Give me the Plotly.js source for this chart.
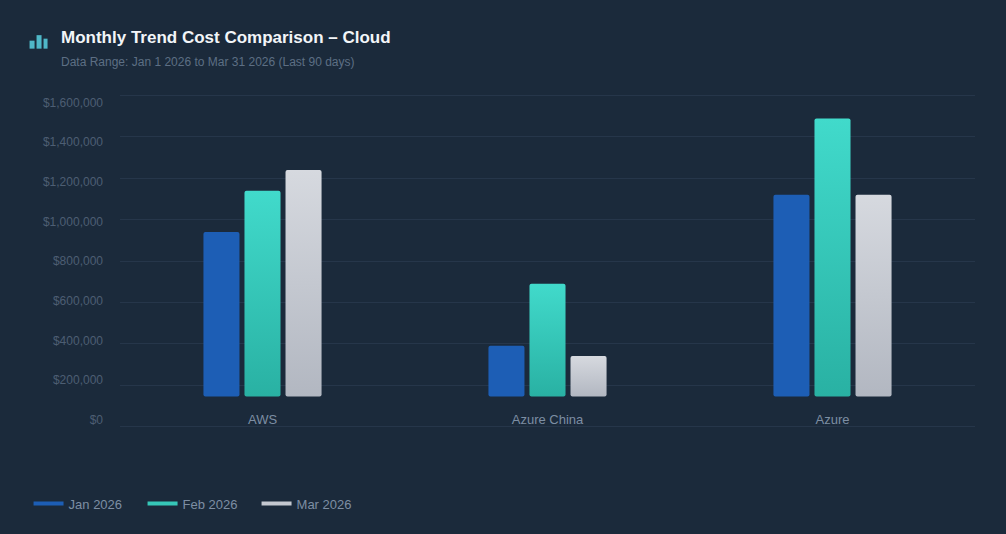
<!DOCTYPE html>
<html>
<head>
<meta charset="utf-8">
<script src="https://cdn.plot.ly/plotly-3.0.1.min.js"></script>
<style>
  html, body { margin: 0; padding: 0; background: #1b2a3b; }
  #chart { width: 1006px; height: 534px; }
</style>
</head>
<body>
<div id="chart"></div>
<script>
// chart data
var clouds = ["AWS", "Azure China", "Azure"];
var months = ["Jan 2026", "Feb 2026", "Mar 2026"];
var jan = [940000, 390000, 1120000];
var feb = [1140000, 690000, 1490000];
var mar = [1240000, 340000, 1120000];
var yTicks = [0, 200000, 400000, 600000, 800000, 1000000, 1200000, 1400000, 1600000];
var yTickText = ["$0", "$200,000", "$400,000", "$600,000", "$800,000", "$1,000,000", "$1,200,000", "$1,400,000", "$1,600,000"];

var colors = ["#1d5eb5", "#36c7b8", "#c4c8d0"];
var barFloor = 144000; // bars sit a little above the $0 line
var yMax = 1600000;
var pad = 8000; // keeps the edge gridlines from being clipped

// plot box in pixels ($0 grid at 426.7, top grid at 96)
var W = 1006, H = 534;
var gridTop = 96, gridBottom = 426.7;
var padPx = pad / yMax * (gridBottom - gridTop);
var L = 119.5, R = 31, T = gridTop - padPx, B = H - gridBottom - padPx;
var plotW = W - L - R, plotH = H - T - B;
function px(x) { return (x - L) / plotW; }
function py(y) { return (H - B - y) / plotH; }

// tick labels sit slightly inside the grid: $0 at 420, top at 102.7
var labelTop = 102.7, labelBottom = 420;
var span2 = yMax * plotH / (labelBottom - labelTop);
var lo2 = -((H - B) - labelBottom) / plotH * span2;
var y2Range = [lo2, lo2 + span2];

var series = [jan, feb, mar];
var traces = [];
series.forEach(function (vals, i) {
  traces.push({
    type: "bar",
    x: clouds,
    y: vals.map(function (v) { return v - barFloor; }),
    base: barFloor,
    customdata: vals,
    name: months[i],
    marker: { color: colors[i] },
    showlegend: false,
    hovertemplate: "%{x}<br>" + months[i] + ": $%{customdata:,.0f}<extra></extra>"
  });
});
// legend entries drawn as short lines
series.forEach(function (vals, i) {
  traces.push({
    type: "scatter",
    mode: "lines",
    x: [null],
    y: [null],
    name: months[i],
    line: { color: colors[i], width: 4 },
    hoverinfo: "skip"
  });
});
// a hidden trace keeps the label axis alive
traces.push({
  type: "scatter", mode: "markers", x: [clouds[0]], y: [null],
  yaxis: "y2", showlegend: false, hoverinfo: "skip"
});

// icon next to the title
var icon = [[29, 41, 34], [36, 35.5, 41], [43, 39, 47]];
var shapes = icon.map(function (b) {
  return {
    type: "rect", xref: "paper", yref: "paper",
    x0: px(b[0]), x1: px(b[2]), y0: py(49), y1: py(b[1]),
    fillcolor: "#4fb8c8", line: { width: 0 }
  };
});

var layout = {
  width: W,
  height: H,
  paper_bgcolor: "#1b2a3b",
  plot_bgcolor: "#1b2a3b",
  margin: { l: L, r: R, t: T, b: B },
  font: { family: "Liberation Sans, Arial, sans-serif", color: "#7d8ea3" },
  title: {
    text: "<b>Monthly Trend Cost Comparison – Cloud</b>",
    font: { size: 17, color: "#f2f5f8" },
    xref: "container", yref: "container",
    x: 61 / W, xanchor: "left",
    y: 1 - 37 / H, yanchor: "middle"
  },
  annotations: [{
    text: "Data Range: Jan 1 2026 to Mar 31 2026 (Last 90 days)",
    xref: "paper", yref: "paper",
    x: px(58), y: py(62), xanchor: "left", yanchor: "middle",
    showarrow: false,
    font: { size: 12, color: "#5d6f84" }
  }],
  shapes: shapes,
  barmode: "group",
  bargap: 0.568,
  bargroupgap: 0.122,
  barcornerradius: 2,
  xaxis: {
    type: "category",
    anchor: "free",
    position: py(410),
    showgrid: false,
    showline: false,
    zeroline: false,
    ticks: "",
    tickfont: { size: 13, color: "#7d8ea3" },
    fixedrange: true
  },
  yaxis: {
    range: [-pad, yMax + pad],
    tickmode: "array",
    tickvals: yTicks,
    showgrid: true,
    gridcolor: "#26364a",
    gridwidth: 1,
    zeroline: false,
    showticklabels: false,
    ticks: "",
    fixedrange: true
  },
  yaxis2: {
    overlaying: "y",
    side: "left",
    range: y2Range,
    tickmode: "array",
    tickvals: yTicks,
    ticktext: yTickText,
    showgrid: false,
    zeroline: false,
    ticks: "",
    ticklabelstandoff: 16,
    tickfont: { size: 12, color: "#4d5e73" },
    fixedrange: true
  },
  legend: {
    orientation: "h",
    x: px(28), xanchor: "left",
    y: py(504), yanchor: "middle",
    font: { size: 13, color: "#7d8ea3" },
    bgcolor: "rgba(0,0,0,0)",
    entrywidthmode: "pixels",
    entrywidth: 69
  },
  hovermode: "closest"
};

// vertical gradients on Feb and Mar bars
function paintGradients(gd) {
  var svg = gd.querySelector(".main-svg");
  var ns = "http://www.w3.org/2000/svg";
  var defs = svg.querySelector("defs");
  if (!defs) { defs = document.createElementNS(ns, "defs"); svg.insertBefore(defs, svg.firstChild); }
  function grad(id, top, bottom) {
    if (svg.querySelector("#" + id)) return;
    var g = document.createElementNS(ns, "linearGradient");
    g.setAttribute("id", id);
    g.setAttribute("x1", "0"); g.setAttribute("y1", "0");
    g.setAttribute("x2", "0"); g.setAttribute("y2", "1");
    [[0, top], [1, bottom]].forEach(function (s) {
      var st = document.createElementNS(ns, "stop");
      st.setAttribute("offset", s[0]);
      st.setAttribute("stop-color", s[1]);
      g.appendChild(st);
    });
    defs.appendChild(g);
  }
  grad("gradFeb", "#41dacb", "#29b1a3");
  grad("gradMar", "#d6d9df", "#b2b7c1");
  var groups = svg.querySelectorAll(".barlayer .trace");
  [null, "gradFeb", "gradMar"].forEach(function (id, i) {
    if (!id || !groups[i]) return;
    groups[i].querySelectorAll("path").forEach(function (p) {
      p.style.fill = "url(#" + id + ")";
      p.setAttribute("fill", "url(#" + id + ")");
    });
  });
}

var gd = document.getElementById("chart");
Plotly.newPlot(gd, traces, layout, { displayModeBar: false }).then(function () {
  paintGradients(gd);
  gd.on("plotly_afterplot", function () { paintGradients(gd); });
});
</script>
</body>
</html>
